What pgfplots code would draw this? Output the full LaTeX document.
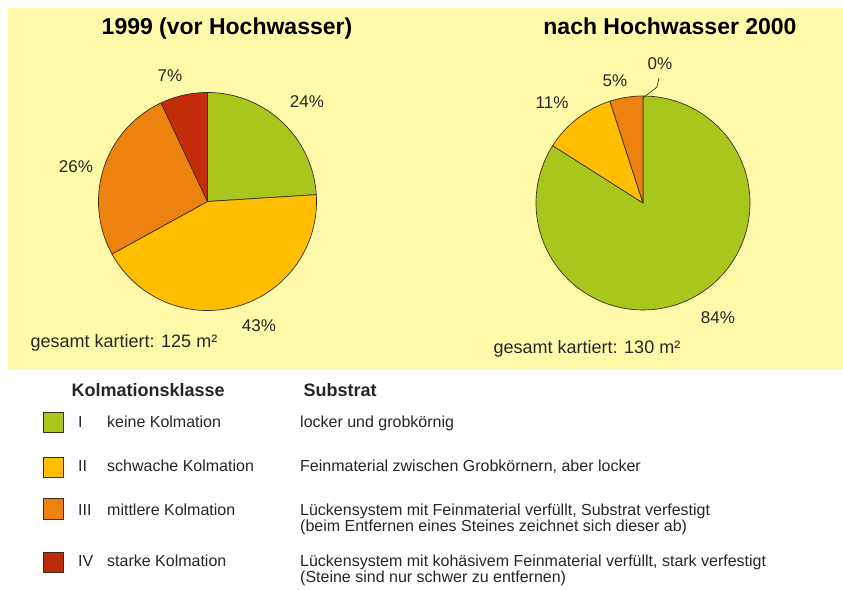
\documentclass[border=0pt]{standalone}
\usepackage{pgfplots}
\pgfplotsset{compat=1.18}
\usepackage{fontspec}
\setmainfont{Liberation Sans}
\definecolor{kI}{RGB}{168,198,28}
\definecolor{kII}{RGB}{255,190,0}
\definecolor{kIII}{RGB}{238,130,15}
\definecolor{kIV}{RGB}{195,45,10}
\definecolor{bgyellow}{RGB}{255,250,170}
\definecolor{edge}{RGB}{60,45,30}
\newcommand{\fs}[1]{\fontsize{#1}{#1}\selectfont}
% #1 cx, #2 cy, #3 radius, #4 cumulative start (%), #5 share (%), #6 colour
\newcommand{\pieslice}[6]{%
  \addplot[draw=edge, line width=0.7pt, line join=round, fill=#6,
    domain=90-3.6*(#4+#5):90-3.6*(#4), samples=90, variable=\t]
    ({#1+#3*cos(\t)},{#2+#3*sin(\t)}) -- (axis cs:#1,#2) -- cycle;
}
\begin{document}
\begin{tikzpicture}
\begin{axis}[scale only axis, width=843pt, height=589pt,
  xmin=0, xmax=843, ymin=0, ymax=589, hide axis, clip=false]
\fill[white] (axis cs:0,0) rectangle (axis cs:843,589);
\fill[bgyellow] (axis cs:8,219) rectangle (axis cs:843,581);
% 1999 (vor Hochwasser): I 24, II 43, III 26, IV 7
\pieslice{207.5}{387.5}{109}{0}{24}{kI}
\pieslice{207.5}{387.5}{109}{24}{43}{kII}
\pieslice{207.5}{387.5}{109}{67}{26}{kIII}
\pieslice{207.5}{387.5}{109}{93}{7}{kIV}
% nach Hochwasser 2000: I 84, II 11, III 5, IV 0
\pieslice{643}{386}{107}{0}{84}{kI}
\pieslice{643}{386}{107}{84}{11}{kII}
\pieslice{643}{386}{107}{95}{5}{kIII}
\draw[edge, line width=0.7pt] (axis cs:643,491) -- (axis cs:657,502) -- (axis cs:659,511);
% titles
\node[anchor=base, font=\fs{23}\bfseries] at (axis cs:227,554) {1999 (vor Hochwasser)};
\node[anchor=base, font=\fs{23}\bfseries] at (axis cs:670,554) {nach Hochwasser 2000};
% percentage labels
\begin{scope}[every node/.style={anchor=base, font=\fs{17}, text=black!85}]
\node at (axis cs:170,507) {7\%};
\node at (axis cs:307,481) {24\%};
\node at (axis cs:76,416) {26\%};
\node at (axis cs:259,257) {43\%};
\node at (axis cs:660,519) {0\%};
\node at (axis cs:615,502) {5\%};
\node at (axis cs:552,480) {11\%};
\node at (axis cs:718,265) {84\%};
\end{scope}
\node[anchor=base west, font=\fs{18}, text=black!85] at (axis cs:27,241) {gesamt kartiert: 125 m²};
\node[anchor=base west, font=\fs{18}, text=black!85] at (axis cs:490,235) {gesamt kartiert: 130 m²};
% legend table
\node[anchor=base west, font=\fs{18}\bfseries, text=black!85] at (axis cs:68,192) {Kolmationsklasse};
\node[anchor=base west, font=\fs{18}\bfseries, text=black!85] at (axis cs:300,192) {Substrat};
\draw[edge, line width=0.8pt, fill=kI] (axis cs:43,177) rectangle (axis cs:63,157);
\draw[edge, line width=0.8pt, fill=kII] (axis cs:43,132) rectangle (axis cs:63,112);
\draw[edge, line width=0.8pt, fill=kIII] (axis cs:43,91) rectangle (axis cs:63,70);
\draw[edge, line width=0.8pt, fill=kIV!95!black] (axis cs:43,37) rectangle (axis cs:63,17);
\begin{scope}[every node/.style={anchor=base west, font=\fs{16}, text=black!85, inner sep=0pt}]
\node at (axis cs:78,161) {I};
\node at (axis cs:107,161) {keine Kolmation};
\node at (axis cs:300,161) {locker und grobkörnig};
\node at (axis cs:78,117) {II};
\node at (axis cs:107,117) {schwache Kolmation};
\node at (axis cs:300,117) {Feinmaterial zwischen Grobkörnern, aber locker};
\node at (axis cs:78,73) {III};
\node at (axis cs:107,73) {mittlere Kolmation};
\node at (axis cs:300,73) {Lückensystem mit Feinmaterial verfüllt, Substrat verfestigt};
\node at (axis cs:300,57) {(beim Entfernen eines Steines zeichnet sich dieser ab)};
\node at (axis cs:78,22) {IV};
\node at (axis cs:107,22) {starke Kolmation};
\node at (axis cs:300,22) {Lückensystem mit kohäsivem Feinmaterial verfüllt, stark verfestigt};
\node at (axis cs:300,6) {(Steine sind nur schwer zu entfernen)};
\end{scope}
\end{axis}
\end{tikzpicture}
\end{document}
